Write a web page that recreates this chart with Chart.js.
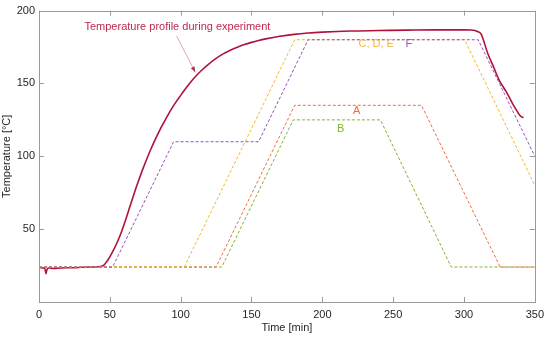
<!DOCTYPE html>
<html>
<head>
<meta charset="utf-8">
<script src="https://cdn.jsdelivr.net/npm/chart.js@4"></script>
<style>
  html, body { margin: 0; padding: 0; background: #fff; }
  canvas { display: block; }
</style>
</head>
<body>
<canvas id="chart" width="550" height="340"></canvas>
<script>
// measured temperature during the experiment
const measuredTime = [0, 2, 4, 5, 5.5, 7, 10, 15, 20, 25, 30, 35, 40, 44, 46, 48, 50, 52, 55, 58, 61, 64, 67, 70, 73, 76, 79, 82, 85, 88, 91, 94, 97, 100, 103, 106, 110, 115, 120, 125, 130, 135, 140, 145, 150, 155, 160, 170, 180, 190, 200, 220, 240, 260, 280, 300, 305, 310, 312, 317, 321, 325, 330, 335, 340, 342];
const measuredTemp = [23.5, 23.5, 23.2, 19.5, 22, 23.5, 23, 23.3, 23.5, 23.5, 23.8, 24, 24, 24.5, 25.5, 28, 31, 34.5, 40.5, 47.5, 56, 65, 74, 82.5, 90.5, 98, 105, 111.5, 117.5, 123, 128.3, 133.2, 137.7, 141.8, 145.8, 149.6, 154.2, 159.2, 163.5, 167.2, 170.3, 172.8, 174.9, 176.7, 178.2, 179.5, 180.6, 182.4, 183.7, 184.6, 185.2, 186, 186.3, 186.6, 186.8, 186.8, 186.7, 185.5, 184, 170, 161, 152, 144, 135, 127.5, 126.5];

// programmed profiles
const timeA = [0, 125, 180.5, 270, 325.5, 350];
const tempA = [24, 24, 135, 135, 24, 24];
const timeB = [0, 129, 179.5, 241, 291, 350];
const tempB = [24, 24, 125, 125, 24, 24];
const timeCDE = [0, 102.5, 180.5, 300.5, 350];
const tempCDE = [24, 24, 180, 180, 80];
const timeF = [0, 52, 95, 155, 190, 310, 350];
const tempF = [24, 24, 110, 110, 180, 180, 100];

const xTicks = [0, 50, 100, 150, 200, 250, 300, 350];
const yTicks = [50, 100, 150, 200];

const colMeasured = '#b0123c';
const colA = '#ef6e3c';
const colB = '#82b432';
const colCDE = '#f5b829';
const colF = '#9650be';

// text labels [text, x, y, colour]
const labels = [
  ['C, D, E', 238, 177, colCDE],
  ['F', 261, 177, colF],
  ['A', 224.2, 131, colA],
  ['B', 213, 118.5, colB]
];

function pts(xs, ys) {
  return xs.map((x, i) => ({x: x, y: ys[i]}));
}

function dashed(label, xs, ys, col) {
  return {
    label: label,
    data: pts(xs, ys),
    borderColor: col,
    borderWidth: 1,
    borderDash: [3, 2],
    pointRadius: 0,
    fill: false,
    tension: 0
  };
}

const FONT = 'Liberation Sans, Arial, sans-serif';

const decor = {
  id: 'decor',
  afterDatasetsDraw(chart) {
    const ctx = chart.ctx;
    const a = chart.chartArea;
    const xs = chart.scales.x, ys = chart.scales.y;
    ctx.save();
    ctx.strokeStyle = '#9a9a9a';
    ctx.lineWidth = 1;
    ctx.strokeRect(Math.round(a.left) + 0.5, Math.round(a.top) + 0.5,
      Math.round(a.right - a.left), Math.round(a.bottom - a.top));
    ctx.beginPath();
    xTicks.forEach(v => {
      const p = Math.round(xs.getPixelForValue(v)) + 0.5;
      ctx.moveTo(p, a.bottom); ctx.lineTo(p, a.bottom - 5);
      ctx.moveTo(p, a.top); ctx.lineTo(p, a.top + 5);
    });
    yTicks.forEach(v => {
      const p = Math.round(ys.getPixelForValue(v)) + 0.5;
      ctx.moveTo(a.left, p); ctx.lineTo(a.left + 5, p);
      ctx.moveTo(a.right, p); ctx.lineTo(a.right - 5, p);
    });
    ctx.stroke();

    ctx.font = '11px ' + FONT;
    ctx.textAlign = 'center';
    ctx.textBaseline = 'middle';
    labels.forEach(l => {
      ctx.fillStyle = l[3];
      ctx.fillText(l[0], xs.getPixelForValue(l[1]), ys.getPixelForValue(l[2]));
    });

    // annotation for the measured curve
    ctx.fillStyle = '#c0284f';
    ctx.fillText('Temperature profile during experiment', xs.getPixelForValue(97.7), ys.getPixelForValue(189.1));
    const x0 = xs.getPixelForValue(97.2), y0 = ys.getPixelForValue(182.5);
    const x1 = xs.getPixelForValue(110.3), y1 = ys.getPixelForValue(157.7);
    ctx.strokeStyle = '#e3a3b3';
    ctx.beginPath();
    ctx.moveTo(x0, y0); ctx.lineTo(x1, y1);
    ctx.stroke();
    const ang = Math.atan2(y1 - y0, x1 - x0);
    ctx.fillStyle = '#b0304f';
    ctx.beginPath();
    ctx.moveTo(x1, y1);
    ctx.lineTo(x1 - 6 * Math.cos(ang - 0.35), y1 - 6 * Math.sin(ang - 0.35));
    ctx.lineTo(x1 - 6 * Math.cos(ang + 0.35), y1 - 6 * Math.sin(ang + 0.35));
    ctx.closePath();
    ctx.fill();
    ctx.restore();
  }
};

new Chart(document.getElementById('chart'), {
  type: 'line',
  data: {
    datasets: [
      dashed('F', timeF, tempF, colF),
      dashed('C, D, E', timeCDE, tempCDE, colCDE),
      dashed('A', timeA, tempA, colA),
      dashed('B', timeB, tempB, colB),
      {
        label: 'Measured',
        data: pts(measuredTime, measuredTemp),
        borderColor: colMeasured,
        borderWidth: 1.6,
        pointRadius: 0,
        fill: false,
        cubicInterpolationMode: 'monotone'
      }
    ]
  },
  options: {
    responsive: false,
    animation: false,
    events: [],
    layout: { padding: { top: 7, right: 13, left: 0, bottom: 0 } },
    plugins: {
      legend: { display: false },
      tooltip: { enabled: false }
    },
    scales: {
      x: {
        type: 'linear',
        min: 0,
        max: 350,
        afterBuildTicks: s => { s.ticks = xTicks.map(v => ({value: v})); },
        afterFit: s => { s.height = 38; },
        grid: { display: false, drawTicks: false },
        border: { display: false },
        ticks: { color: '#262626', font: { family: FONT, size: 11 }, padding: 6, maxRotation: 0 },
        title: { display: true, text: 'Time [min]', color: '#262626', font: { family: FONT, size: 11 }, padding: { top: 0, bottom: 5 } }
      },
      y: {
        min: 0,
        max: 200,
        afterBuildTicks: s => { s.ticks = yTicks.map(v => ({value: v})); },
        afterFit: s => { s.width = 39; },
        grid: { display: false, drawTicks: false },
        border: { display: false },
        ticks: { color: '#262626', font: { family: FONT, size: 11 }, padding: 4 },
        title: { display: true, text: 'Temperature [°C]', color: '#262626', font: { family: FONT, size: 11 }, padding: { top: 0, bottom: 3 } }
      }
    }
  },
  plugins: [decor]
});
</script>
</body>
</html>
